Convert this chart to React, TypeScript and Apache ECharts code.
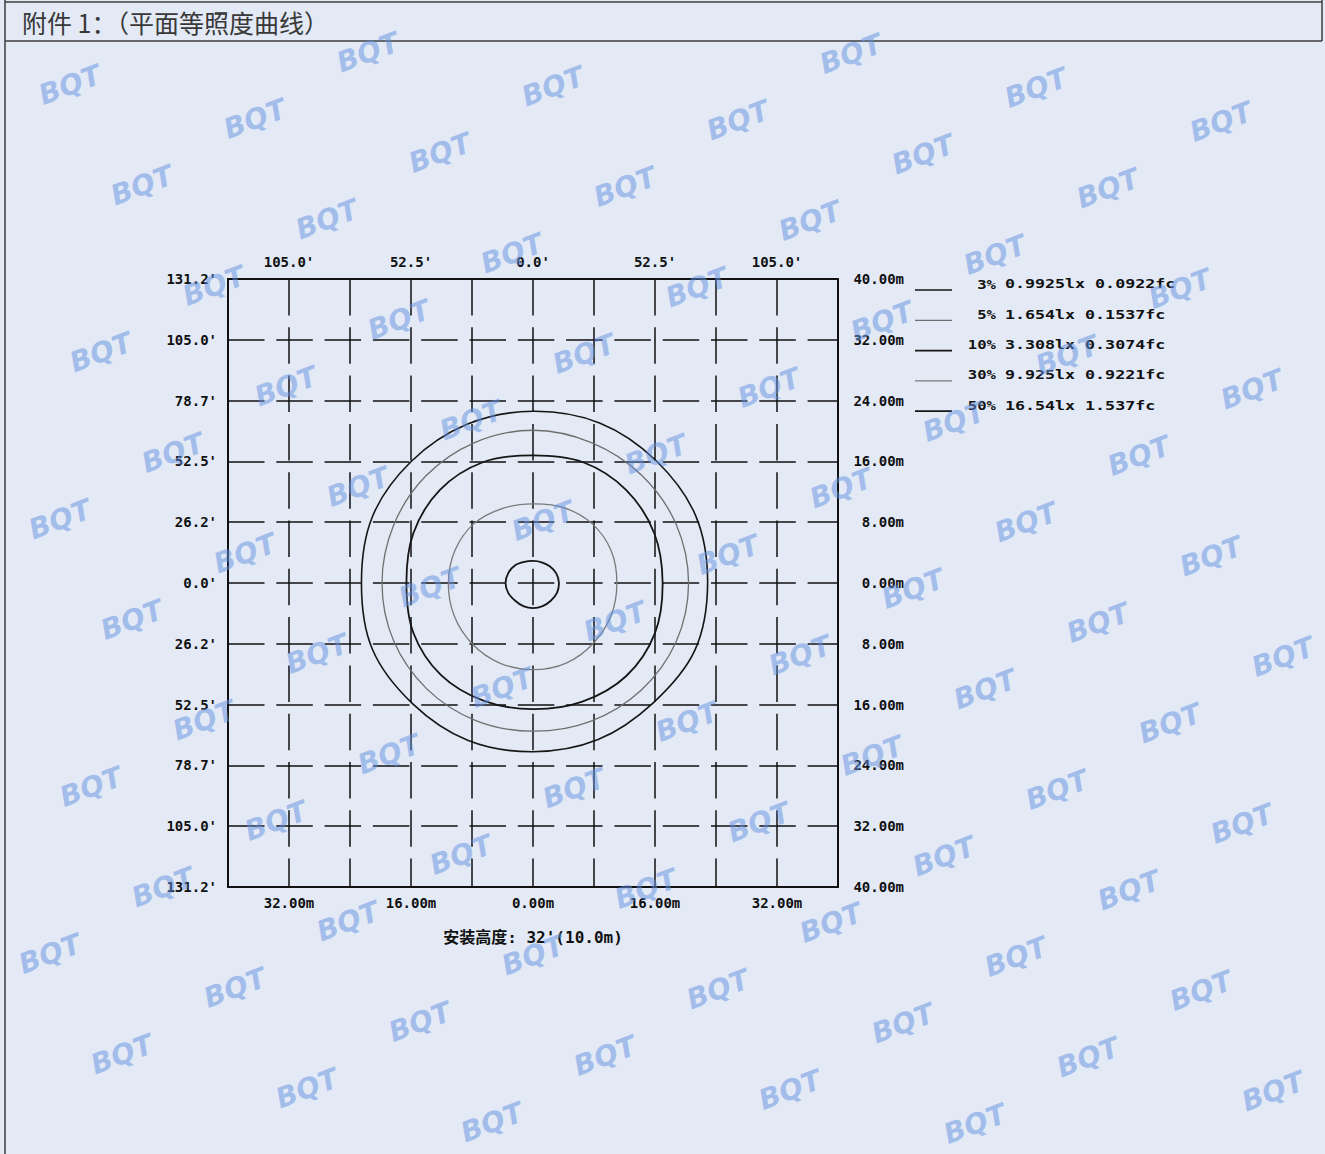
import React, { useEffect, useRef } from 'react';
import * as echarts from 'echarts';

// ---------- axis ticks / labels ----------
const tickValues = [-40, -32, -24, -16, -8, 0, 8, 16, 24, 32, 40];
const bottomLabels = ['', '32.00m', '', '16.00m', '', '0.00m', '', '16.00m', '', '32.00m', ''];
const topLabels = ['', "105.0'", '', "52.5'", '', "0.0'", '', "52.5'", '', "105.0'", ''];
const leftLabels = ["131.2'", "105.0'", "78.7'", "52.5'", "26.2'", "0.0'", "26.2'", "52.5'", "78.7'", "105.0'", "131.2'"];
const rightLabels = ['40.00m', '32.00m', '24.00m', '16.00m', '8.00m', '0.00m', '8.00m', '16.00m', '24.00m', '32.00m', '40.00m'];

// ---------- contour data: radius (m) read at each angle (deg, counter-clockwise from +x) ----------
const contourAngles = [0, 22.5, 45, 67.5, 90, 112.5, 135, 157.5, 180, 202.5, 225, 247.5, 270, 292.5, 315, 337.5];
const radius3 = [22.9, 23.1, 22.8, 22.8, 22.6, 22.6, 22.6, 22.8, 22.5, 22.8, 22.4, 22.4, 22.2, 22.3, 22.3, 23.0];
const radius5 = [20.4, 20.3, 20.1, 20.0, 20.1, 20.0, 19.9, 19.8, 19.8, 19.8, 19.7, 19.6, 19.5, 19.7, 20.0, 20.3];
const radius10 = [17.0, 17.2, 17.3, 17.2, 16.8, 17.2, 17.3, 17.0, 16.6, 17.0, 17.1, 16.8, 16.6, 16.9, 17.3, 17.3];
const radius30 = [11.0, 11.1, 11.0, 10.7, 10.4, 10.6, 11.0, 11.1, 11.1, 11.2, 11.3, 11.4, 11.4, 11.4, 11.2, 11.1];
const radius50 = [3.4, 3.3, 3.1, 2.95, 2.9, 3.0, 3.3, 3.5, 3.6, 3.5, 3.3, 3.3, 3.3, 3.3, 3.3, 3.4];

// ---------- legend ----------
const levelNames = ['3%', '5%', '10%', '30%', '50%'];
const luxValues = ['0.9925lx', '1.654lx', '3.308lx', '9.925lx', '16.54lx'];
const fcValues = ['0.0922fc', '0.1537fc', '0.3074fc', '0.9221fc', '1.537fc'];
const levelRadii = [radius3, radius5, radius10, radius30, radius50];
const levelColors = ['#151515', '#6e6e6e', '#151515', '#7a7a7a', '#151515'];
const levelWidths = [1.6, 1.3, 1.8, 1.3, 1.8];

const MONO = "'DejaVu Sans Mono', 'Liberation Mono', monospace";
const CAPTION_FONT = "'DejaVu Sans Mono', 'Noto Sans CJK SC', monospace";
const CJK = "'Noto Sans CJK SC', sans-serif";
const BG = '#e3eaf6';

function labelAt(list: string[]) {
  return (v: number) => {
    const i = tickValues.indexOf(Math.round(v));
    return i >= 0 ? list[i] : '';
  };
}

function loopPoints(radii: number[]) {
  return radii.map((r, i) => {
    const a = (contourAngles[i] * Math.PI) / 180;
    return [r * Math.cos(a), r * Math.sin(a)];
  });
}

export default function App() {
  const ref = useRef<HTMLDivElement>(null);

  useEffect(() => {
    document.body.style.margin = '0';
    document.body.style.background = BG;
    if (!ref.current) return;
    const chart = echarts.init(ref.current, undefined, { renderer: 'svg' });

    const axisText = { fontFamily: MONO, fontWeight: 'bold' as const, fontSize: 14, color: '#111' };

    // watermark lattice (decoration)
    const marks: any[] = [];
    for (let m = -8; m <= 9; m++) {
      for (let n = -3; n <= 13; n++) {
        const x = 70 + 185 * m + 72 * n;
        const y = 85 + 34 * m + 100.5 * n;
        if (x < 45 || x > 1285 || y < 32 || y > 1125) continue;
        marks.push({
          type: 'text',
          x,
          y,
          rotation: 0.36,
          z: 50,
          silent: true,
          style: {
            text: 'BQT',
            fontFamily: "'DejaVu Sans', sans-serif",
            fontWeight: 'bold',
            fontStyle: 'italic',
            fontSize: 28,
            fill: 'rgba(100,145,225,0.5)',
            align: 'center',
            verticalAlign: 'middle',
          },
        });
      }
    }

    const frame = [
      { x1: 5, y1: 2, x2: 1322, y2: 2 },
      { x1: 5, y1: 41, x2: 1322, y2: 41 },
      { x1: 5, y1: 0, x2: 5, y2: 1154 },
      { x1: 1322, y1: 0, x2: 1322, y2: 41 },
    ].map((s) => ({ type: 'line', shape: s, silent: true, style: { stroke: '#3c3c3c', lineWidth: 1.5 } }));

    const legendEls: any[] = [];
    levelNames.forEach((name, i) => {
      const ty = 284 + 30.3 * i;
      legendEls.push({
        type: 'line',
        shape: { x1: 915, y1: ty + 6, x2: 952, y2: ty + 6 },
        style: { stroke: levelColors[i], lineWidth: levelWidths[i] },
      });
      legendEls.push({
        type: 'text',
        x: 996,
        y: ty,
        scaleX: 1.2,
        style: { text: name, fontFamily: MONO, fontWeight: 'bold', fontSize: 13, fill: '#111', align: 'right', verticalAlign: 'middle' },
      });
      legendEls.push({
        type: 'text',
        x: 1005,
        y: ty,
        scaleX: 1.28,
        style: {
          text: `${luxValues[i]} ${fcValues[i]}`,
          fontFamily: MONO,
          fontWeight: 'bold',
          fontSize: 13,
          fill: '#111',
          align: 'left',
          verticalAlign: 'middle',
        },
      });
    });

    const gridDash = { color: '#111', width: 1.5, type: [36.5, 11.8] as any, dashOffset: 0 };
    const frameLine = { show: true, onZero: false, lineStyle: { color: '#111', width: 2 } };

    const contourSeries = levelNames.map((name, i) => {
      const pts = loopPoints(levelRadii[i]);
      return {
        type: 'custom',
        name,
        coordinateSystem: 'cartesian2d',
        xAxisIndex: 0,
        yAxisIndex: 0,
        data: pts,
        encode: { x: 0, y: 1 },
        silent: true,
        z: 3,
        renderItem: (params: any, api: any) => {
          if (params.dataIndex !== 0) return null;
          const pix = pts.map((p) => api.coord(p));
          return {
            type: 'polygon',
            silent: true,
            shape: { points: pix, smooth: 0.33 },
            style: { fill: 'none', stroke: levelColors[i], lineWidth: levelWidths[i] },
          };
        },
      };
    });

    chart.setOption({
      animation: false,
      backgroundColor: BG,
      grid: { left: 228, top: 279, width: 610, height: 608, containLabel: false },
      xAxis: [
        {
          type: 'value',
          position: 'bottom',
          min: -40,
          max: 40,
          interval: 8,
          axisLine: frameLine,
          axisTick: { show: false },
          splitLine: { show: true, lineStyle: gridDash },
          axisLabel: { ...axisText, margin: 9, formatter: labelAt(bottomLabels) },
          name: "安装高度: 32'(10.0m)",
          nameLocation: 'middle',
          nameGap: 42,
          nameTextStyle: { fontFamily: CAPTION_FONT, fontWeight: 'bold', fontSize: 16, color: '#111' },
        },
        {
          type: 'value',
          position: 'top',
          min: -40,
          max: 40,
          interval: 8,
          axisLine: frameLine,
          axisTick: { show: false },
          splitLine: { show: false },
          axisLabel: { ...axisText, margin: 10, formatter: labelAt(topLabels) },
        },
      ],
      yAxis: [
        {
          type: 'value',
          position: 'left',
          min: -40,
          max: 40,
          interval: 8,
          axisLine: frameLine,
          axisTick: { show: false },
          splitLine: { show: true, lineStyle: gridDash },
          axisLabel: { ...axisText, margin: 11, formatter: labelAt(leftLabels) },
        },
        {
          type: 'value',
          position: 'right',
          min: -40,
          max: 40,
          interval: 8,
          axisLine: frameLine,
          axisTick: { show: false },
          splitLine: { show: false },
          axisLabel: { ...axisText, margin: 66, align: 'right', formatter: labelAt(rightLabels) },
        },
      ],
      series: contourSeries,
      graphic: [
        ...frame,
        {
          type: 'text',
          x: 22,
          y: 22,
          silent: true,
          style: {
            text: '附件 1：（平面等照度曲线）',
            fontFamily: CJK,
            fontSize: 25,
            fill: '#383838',
            align: 'left',
            verticalAlign: 'middle',
          },
        },
        ...legendEls,
        ...marks,
      ],
    });

    return () => chart.dispose();
  }, []);

  return <div ref={ref} style={{ width: 1325, height: 1154 }} />;
}
